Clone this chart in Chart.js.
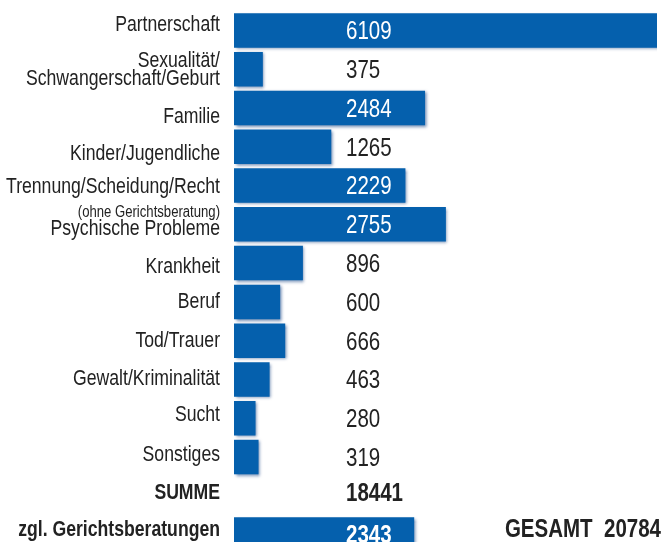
<!DOCTYPE html>
<html>
<head>
<meta charset="utf-8">
<script src="https://cdn.jsdelivr.net/npm/chart.js@4/dist/chart.umd.min.js"></script>
<style>
  html, body { margin: 0; padding: 0; background: #fff; overflow: hidden; }
  #wrap { width: 663px; height: 560px; }
</style>
</head>
<body>
<div id="wrap"><canvas id="grafik" width="663" height="560"></canvas></div>
<script>
// Beratungsthemen
const kategorien = [
    'Partnerschaft',
    ['Sexualität/', 'Schwangerschaft/Geburt'],
    'Familie',
    'Kinder/Jugendliche',
    'Trennung/Scheidung/Recht',
    'Psychische Probleme',
    'Krankheit',
    'Beruf',
    'Tod/Trauer',
    'Gewalt/Kriminalität',
    'Sucht',
    'Sonstiges',
    'SUMME',
    'zgl. Gerichtsberatungen'
];
const anzahl = [6109, 375, 2484, 1265, 2229, 2755, 896, 600, 666, 463, 280, 319, null, 2343];
const summe = 18441;
const gesamt = 20784;
const hinweis = '(ohne Gerichtsberatung)';

const BLAU = '#0560ad';
const TEXT = '#222222';
const SCHRIFT = '"Liberation Sans", Arial, sans-serif';
const SCHMAL = 0.82; // Schmalschrift nachbilden
// kleine Verschiebungen der Beschriftungen wie in der Vorlage
const versatz = [-5, 0, 9, 7, 2, 0, 4, 0, 0, 0, -3, -2, -3, -5];

function schmalText(ctx, txt, x, y, align) {
    ctx.save();
    ctx.translate(x, y);
    ctx.scale(SCHMAL, 1);
    ctx.textAlign = align;
    ctx.fillText(txt, 0, 0);
    ctx.restore();
}

const schatten = {
    id: 'schatten',
    beforeDatasetsDraw(chart) {
        const ctx = chart.ctx;
        ctx.save();
        ctx.shadowColor = 'rgba(0, 50, 120, 0.55)';
        ctx.shadowBlur = 3;
        ctx.shadowOffsetX = 1.5;
        ctx.shadowOffsetY = 1.5;
    },
    afterDatasetsDraw(chart) {
        chart.ctx.restore();
    }
};

const beschriftung = {
    id: 'beschriftung',
    afterDraw(chart) {
        const ctx = chart.ctx;
        const y = chart.scales.y;
        const x = chart.scales.x;
        const labelX = chart.chartArea.left - 14;
        const wertX = chart.chartArea.left + 112;
        const letzte = kategorien.length - 1;
        ctx.save();
        ctx.textBaseline = 'middle';

        kategorien.forEach(function (kat, i) {
            const cy = y.getPixelForValue(i);
            const ly = cy + versatz[i];
            const fett = i >= letzte - 1;
            ctx.fillStyle = TEXT;
            ctx.font = (fett ? 'bold ' : '') + '21.5px ' + SCHRIFT;
            if (Array.isArray(kat)) {
                schmalText(ctx, kat[0], labelX, ly - 8, 'right');
                schmalText(ctx, kat[1], labelX, ly + 10, 'right');
            } else if (i === 5) {
                schmalText(ctx, kat, labelX, ly + 5, 'right');
                ctx.font = '16px ' + SCHRIFT;
                schmalText(ctx, hinweis, labelX, ly - 12, 'right');
            } else {
                schmalText(ctx, kat, labelX, ly, 'right');
            }

            let wert = anzahl[i];
            if (i === letzte - 1) wert = summe;
            if (wert === null || wert === undefined) return;
            ctx.font = (fett ? 'bold ' : '') + '25px ' + SCHRIFT;
            const breite = ctx.measureText(String(wert)).width * SCHMAL;
            const ende = anzahl[i] ? x.getPixelForValue(anzahl[i]) : 0;
            ctx.fillStyle = ende > wertX + breite + 4 ? '#ffffff' : TEXT;
            schmalText(ctx, String(wert), wertX, i === letzte - 1 ? cy - 2 : cy + 2, 'left');
        });

        ctx.fillStyle = TEXT;
        ctx.font = 'bold 25px ' + SCHRIFT;
        schmalText(ctx, 'GESAMT  ' + gesamt, chart.width - 2, y.getPixelForValue(letzte) - 4, 'right');
        ctx.restore();
    }
};

new Chart(document.getElementById('grafik'), {
    type: 'bar',
    data: {
        labels: kategorien,
        datasets: [{
            data: anzahl,
            backgroundColor: BLAU,
            borderWidth: 0,
            categoryPercentage: 1,
            barPercentage: 0.89
        }]
    },
    options: {
        indexAxis: 'y',
        responsive: false,
        animation: false,
        events: [],
        layout: {
            padding: { left: 234, right: 6, top: 11, bottom: 6 }
        },
        plugins: {
            legend: { display: false },
            tooltip: { enabled: false }
        },
        scales: {
            x: { display: false, min: 0, max: 5500 },
            y: { display: false }
        }
    },
    plugins: [schatten, beschriftung]
});
</script>
</body>
</html>
